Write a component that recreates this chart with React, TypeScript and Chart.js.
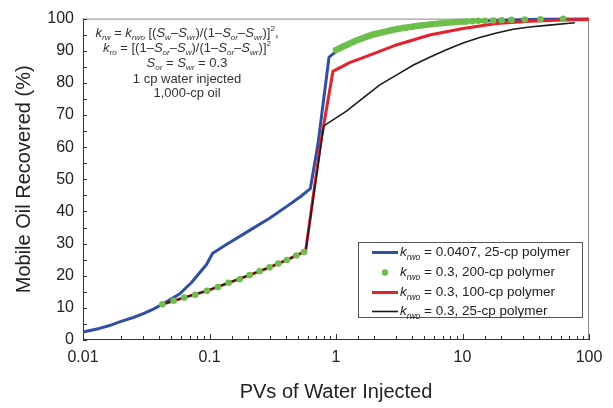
import React, { useEffect, useRef } from "react";
import { Chart, registerables } from "chart.js";

Chart.register(...registerables);

const FONT = "'Liberation Sans', Arial, Helvetica, sans-serif";

// [PVs of water injected, mobile oil recovered %]
const blue25cp: [number, number][] = [
  [0.01, 2.5], [0.0135, 3.6], [0.0162, 4.5], [0.02, 5.8], [0.025, 7.0],
  [0.03, 8.2], [0.036, 9.6], [0.0428, 11.2], [0.05, 12.8],
  [0.058, 14.3], [0.0718, 17.8], [0.0944, 23.4], [0.106, 27.0], [0.136, 29.7],
  [0.2075, 34.1], [0.2985, 37.9], [0.43, 42.2], [0.532, 44.8], [0.627, 47.1],
  [0.721, 61.1], [0.881, 88.0], [0.977, 89.4], [1.05, 90.5], [1.2, 91.7],
  [1.6, 93.8], [2.26, 95.6], [3.08, 96.8], [4.05, 97.5], [5.5, 98.2],
  [7.68, 98.7], [10.2, 99.0], [20.4, 99.5], [41.4, 99.8], [100, 99.9],
];

const green200cp: [number, number][] = [
  [0.0424, 11.1], [0.052, 12.2], [0.063, 13.2], [0.0772, 14.1], [0.0955, 15.3],
  [0.1165, 16.5], [0.1415, 17.8], [0.173, 18.9], [0.2075, 20.2], [0.249, 21.4],
  [0.2985, 22.6], [0.35, 23.8], [0.409, 24.9], [0.486, 26.3], [0.558, 27.4],
  [1.0, 90.2], [1.05, 90.6], [1.1, 91.0], [1.15, 91.4], [1.2, 91.7],
  [1.26, 92.1], [1.32, 92.5], [1.38, 92.8], [1.45, 93.2], [1.52, 93.5],
  [1.6, 93.8], [1.68, 94.1], [1.76, 94.4], [1.85, 94.7], [1.95, 95.0],
  [2.05, 95.2], [2.15, 95.4], [2.26, 95.6], [2.38, 95.8], [2.5, 96.0],
  [2.63, 96.2], [2.77, 96.4], [2.92, 96.6], [3.08, 96.8], [3.25, 96.9],
  [3.43, 97.1], [3.62, 97.2], [3.83, 97.4], [4.05, 97.5], [4.3, 97.7],
  [4.56, 97.8], [4.85, 97.9], [5.15, 98.0], [5.5, 98.2], [5.87, 98.3],
  [6.27, 98.4], [6.7, 98.5], [7.17, 98.6], [7.68, 98.7], [8.23, 98.8],
  [8.83, 98.9], [9.5, 99.0], [10.2, 99.0], [10.8, 99.1], [12.0, 99.2],
  [13.3, 99.3], [15.0, 99.3], [17.5, 99.4], [20.4, 99.5], [24.4, 99.6],
  [31.1, 99.7], [41.4, 99.8], [62.5, 99.9],
];

const red100cp: [number, number][] = [
  [0.0424, 11.1], [0.063, 13.2], [0.0955, 15.3], [0.1415, 17.8], [0.2075, 20.2],
  [0.2985, 22.6], [0.409, 24.9], [0.558, 27.4], [0.575, 27.6], [0.754, 61.0],
  [0.946, 83.6], [1.28, 86.3], [1.7, 88.1], [3.0, 91.8], [5.5, 94.9],
  [10.1, 96.9], [18.6, 98.5], [34, 99.2], [62.5, 99.6], [100, 99.7],
];

const black25cp: [number, number][] = [
  [0.0424, 11.1], [0.063, 13.2], [0.0955, 15.3], [0.1415, 17.8], [0.2075, 20.2],
  [0.2985, 22.6], [0.409, 24.9], [0.558, 27.4], [0.575, 27.6], [0.8, 66.6],
  [1.21, 71.2], [1.64, 75.3], [2.22, 79.4], [3.0, 82.4], [4.06, 85.5],
  [5.5, 88.0], [7.46, 90.3], [10.1, 92.4], [13.7, 94.1], [18.6, 95.5],
  [25.1, 96.7], [34, 97.4], [46.2, 97.9], [77.3, 98.7],
];

const seriesNames = [
  "= 0.0407, 25-cp polymer",
  "= 0.3, 200-cp polymer",
  "= 0.3, 100-cp polymer",
  "= 0.3, 25-cp polymer",
];
const seriesColors = ["#2f4fa6", "#6cbf4a", "#e8202a", "#1a1a1a"];

const xTickLabels = ["0.01", "0.1", "1", "10", "100"];
const xMin = 0.01;
const xMax = 100;
const yMin = 0;
const yMax = 100;
const yStep = 10;

// rich-text segments: n = normal, i = italic, b = subscript, p = superscript
type Seg = [string, "n" | "i" | "b" | "p"];
const noteLines: Seg[][] = [
  [["k", "i"], ["rw", "b"], [" = ", "n"], ["k", "i"], ["rwo", "b"], [" [(", "n"], ["S", "i"], ["w", "b"], ["\u2013", "n"], ["S", "i"], ["wr", "b"], [")/(1\u2013", "n"], ["S", "i"], ["or", "b"], ["\u2013", "n"], ["S", "i"], ["wr", "b"], [")]", "n"], ["2", "p"], [",", "n"]],
  [["k", "i"], ["ro", "b"], [" = [(1\u2013", "n"], ["S", "i"], ["or", "b"], ["\u2013", "n"], ["S", "i"], ["w", "b"], [")/(1\u2013", "n"], ["S", "i"], ["or", "b"], ["\u2013", "n"], ["S", "i"], ["wr", "b"], [")]", "n"], ["2", "p"]],
  [["S", "i"], ["or", "b"], [" = ", "n"], ["S", "i"], ["wr", "b"], [" = 0.3", "n"]],
  [["1 cp water injected", "n"]],
  [["1,000-cp oil", "n"]],
];

function segFont(kind: Seg[1], size: number) {
  const small = Math.round(size * 0.62 * 10) / 10;
  if (kind === "i") return `italic ${size}px ${FONT}`;
  if (kind === "b") return `italic ${small}px ${FONT}`;
  if (kind === "p") return `${small}px ${FONT}`;
  return `${size}px ${FONT}`;
}

function drawRich(ctx: CanvasRenderingContext2D, segs: Seg[], x: number, y: number, size: number, align: "left" | "center") {
  ctx.textBaseline = "middle";
  ctx.textAlign = "left";
  let total = 0;
  for (const [t, k] of segs) {
    ctx.font = segFont(k, size);
    total += ctx.measureText(t).width;
  }
  let cx = align === "center" ? x - total / 2 : x;
  for (const [t, k] of segs) {
    ctx.font = segFont(k, size);
    const dy = k === "b" ? size * 0.36 : k === "p" ? -size * 0.36 : 0;
    ctx.fillText(t, cx, y + dy);
    cx += ctx.measureText(t).width;
  }
}

const isDecade = (v: number) => {
  const l = Math.log10(v);
  return Math.abs(l - Math.round(l)) < 1e-6;
};

const decorPlugin = {
  id: "decor",
  beforeDatasetsDraw(chart: any) {
    const { ctx, chartArea: a, scales } = chart;
    const xs = scales.x;
    const ys = scales.y;
    ctx.save();
    ctx.lineWidth = 1;
    // light top/right border
    ctx.strokeStyle = "#8a8a8a";
    ctx.beginPath();
    ctx.moveTo(a.left, a.top + 0.5);
    ctx.lineTo(a.right - 0.5, a.top + 0.5);
    ctx.lineTo(a.right - 0.5, a.bottom);
    ctx.stroke();
    // dark left/bottom axes
    ctx.strokeStyle = "#333";
    ctx.beginPath();
    ctx.moveTo(a.left + 0.5, a.top);
    ctx.lineTo(a.left + 0.5, a.bottom - 0.5);
    ctx.lineTo(a.right, a.bottom - 0.5);
    ctx.stroke();
    // inward tick marks
    ctx.beginPath();
    for (const t of xs.ticks) {
      const px = Math.round(xs.getPixelForValue(t.value)) + 0.5;
      const len = isDecade(t.value) ? 6 : 4;
      ctx.moveTo(px, a.bottom);
      ctx.lineTo(px, a.bottom - len);
    }
    for (let v = yMin; v <= yMax; v += yStep / 2) {
      const py = Math.round(ys.getPixelForValue(v)) + 0.5;
      ctx.moveTo(a.left, py);
      ctx.lineTo(a.left + 4, py);
    }
    ctx.stroke();
    ctx.restore();
  },
  afterDraw(chart: any) {
    const { ctx } = chart;
    ctx.save();
    // equations block
    ctx.fillStyle = "#333";
    const noteY = [33.5, 48.5, 63, 79, 93.5];
    noteLines.forEach((segs, i) => drawRich(ctx, segs, 187, noteY[i], 13, "center"));

    // legend
    const bx = 358, by = 242, bw = 224, bh = 75;
    ctx.fillStyle = "#fff";
    ctx.fillRect(bx, by, bw, bh);
    ctx.strokeStyle = "#555";
    ctx.lineWidth = 1;
    ctx.strokeRect(bx + 0.5, by + 0.5, bw, bh);
    const rowY = [252.5, 272.5, 292.5, 311.5];
    const widths = [3, 0, 3, 1.6];
    seriesNames.forEach((name, i) => {
      const ry = rowY[i];
      if (i === 1) {
        ctx.fillStyle = seriesColors[i];
        ctx.beginPath();
        ctx.arc(385, ry, 3.2, 0, Math.PI * 2);
        ctx.fill();
      } else {
        ctx.strokeStyle = seriesColors[i];
        ctx.lineWidth = widths[i];
        ctx.beginPath();
        ctx.moveTo(372, ry);
        ctx.lineTo(398, ry);
        ctx.stroke();
      }
      ctx.fillStyle = "#222";
      drawRich(ctx, [["k", "i"], ["rwo", "b"], [" " + name, "n"]], 400, ry, 13.5, "left");
    });
    ctx.restore();
  },
};

const toPts = (arr: [number, number][]) => arr.map(([x, y]) => ({ x, y }));

export default function App() {
  const ref = useRef<HTMLCanvasElement>(null);
  useEffect(() => {
    const prev = document.body.style.margin;
    document.body.style.margin = "0";
    const chart = new Chart(ref.current!, {
      type: "line",
      data: {
        datasets: [
          {
            label: seriesNames[1], data: toPts(green200cp), showLine: false,
            pointRadius: 3.3, pointBackgroundColor: seriesColors[1], pointBorderWidth: 0,
            borderColor: seriesColors[1], order: 0, clip: false,
          },
          {
            label: seriesNames[3], data: toPts(black25cp), borderColor: seriesColors[3],
            borderWidth: 1.6, pointRadius: 0, order: 1, clip: false,
          },
          {
            label: seriesNames[2], data: toPts(red100cp), borderColor: seriesColors[2],
            borderWidth: 3, pointRadius: 0, order: 2, clip: false,
          },
          {
            label: seriesNames[0], data: toPts(blue25cp), borderColor: seriesColors[0],
            borderWidth: 3, pointRadius: 0, order: 3, clip: false, borderJoinStyle: "round",
          },
        ] as any,
      },
      options: {
        responsive: false,
        animation: false,
        devicePixelRatio: 1,
        layout: { padding: { top: 12, right: 24, left: 0, bottom: 0 } },
        plugins: { legend: { display: false }, tooltip: { enabled: false } },
        scales: {
          x: {
            type: "logarithmic",
            min: xMin,
            max: xMax,
            afterFit: (s: any) => { s.height = 68; },
            grid: { display: false, drawTicks: false },
            border: { display: false },
            ticks: {
              autoSkip: false,
              maxRotation: 0,
              padding: 8,
              color: "#222",
              font: { family: FONT, size: 16 },
              callback: (v: any) => (isDecade(Number(v)) ? xTickLabels[Math.round(Math.log10(Number(v))) + 2] : ""),
            },
            title: {
              display: true, text: "PVs of Water Injected", color: "#222",
              font: { family: FONT, size: 20 }, padding: { top: 0, bottom: 4 },
            },
          },
          y: {
            type: "linear",
            min: yMin,
            max: yMax,
            afterFit: (s: any) => { s.width = 83; },
            grid: { display: false, drawTicks: false },
            border: { display: false },
            ticks: { stepSize: yStep, padding: 9, color: "#222", font: { family: FONT, size: 16 } },
            title: {
              display: true, text: "Mobile Oil Recovered (%)", color: "#222",
              font: { family: FONT, size: 20 }, padding: { top: 12, bottom: 0 },
            },
          },
        },
      } as any,
      plugins: [decorPlugin],
    });
    return () => {
      chart.destroy();
      document.body.style.margin = prev;
    };
  }, []);
  return (
    <div style={{ width: 613, height: 408 }}>
      <canvas ref={ref} width={613} height={408} style={{ display: "block" }} />
    </div>
  );
}
